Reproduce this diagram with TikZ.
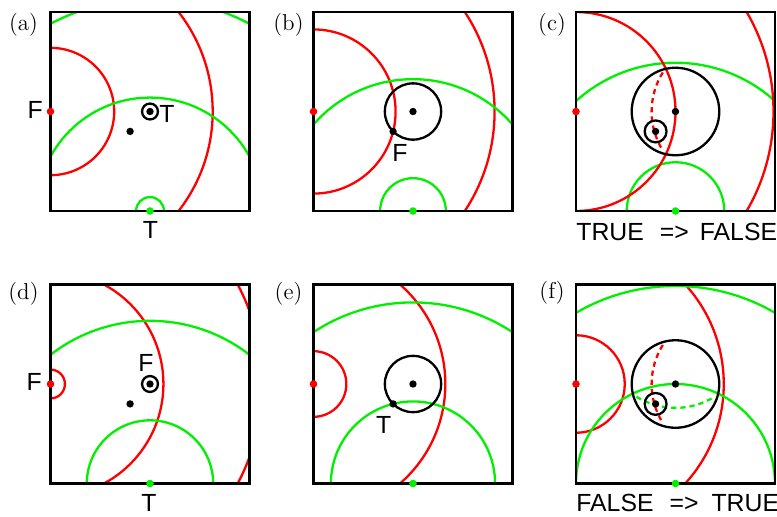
\documentclass[tikz,border=0pt]{standalone}
\usepackage{fontspec}
\newfontfamily\labfont{Liberation Sans}
\definecolor{pred}{RGB}{255,0,0}
\definecolor{pgreen}{RGB}{0,240,0}
\begin{document}
\begin{tikzpicture}[x=0.5pt,y=0.5pt,
  redarc/.style={draw=pred, line width=1.15pt},
  greenarc/.style={draw=pgreen, line width=1.15pt},
  blackring/.style={draw=black, line width=1.15pt},
  dashedarc/.style={line width=1.15pt, dash pattern=on 2.6pt off 2pt},
  frame/.style={draw=black, line width=1.3pt},
  lab/.style={font=\labfont\fontsize{12.4}{14}\selectfont, inner sep=0pt, anchor=base},
  tag/.style={font=\fontsize{11.5}{13}\selectfont, inner sep=0pt},
  dotb/.style={fill=black},
  dotr/.style={fill=pred},
  dotg/.style={fill=pgreen},
]
\useasboundingbox (0,0) rectangle (777,516);

% ---------------- (a) ----------------
\node[tag] (tagA) at (23.5,491.5) {(a)};
\begin{scope}[shift={(50.5,305)}, scale=0.995]
  \coordinate (aF) at (0,100); \coordinate (aT) at (100,0);
  \coordinate (aC) at (100,100); \coordinate (aP) at (80,80);
  \begin{scope}
    \clip (0,0) rectangle (200,200);
    \draw[redarc] (aF) circle[radius=64];
    \draw[redarc] (aF) circle[radius=163];
    \draw[greenarc] (aT) circle[radius=14];
    \draw[greenarc] (aT) circle[radius=114];
    \draw[greenarc] (aT) circle[radius=213];
  \end{scope}
  \draw[frame] (0,0) rectangle (200,200);
  \draw[blackring] (aC) circle[radius=8];
  \fill[dotb] (aC) circle[radius=3.7];
  \fill[dotb] (aP) circle[radius=3.7];
  \fill[dotr] (aF) circle[radius=3.8];
  \fill[dotg] (aT) circle[radius=3.8];
  \node[lab] (aFl) at (-15.5,92.7) {F};
  \node[lab] (aTl) at (117,89) {T};
  \node[lab] (aTb) at (100.5,-27.3) {T};
\end{scope}

% ---------------- (b) ----------------
\node[tag] (tagB) at (288.5,491.5) {(b)};
\begin{scope}[shift={(313.5,305)}, scale=0.995]
  \coordinate (bF) at (0,100); \coordinate (bT) at (100,0);
  \coordinate (bC) at (100,100); \coordinate (bP) at (80,80);
  \begin{scope}
    \clip (0,0) rectangle (200,200);
    \draw[redarc] (bF) circle[radius=82.5];
    \draw[redarc] (bF) circle[radius=182];
    \draw[greenarc] (bT) circle[radius=33];
    \draw[greenarc] (bT) circle[radius=132.5];
  \end{scope}
  \draw[frame] (0,0) rectangle (200,200);
  \draw[blackring] (bC) circle[radius=28.3];
  \fill[dotb] (bC) circle[radius=3.7];
  \fill[dotb] (bP) circle[radius=3.7];
  \fill[dotr] (bF) circle[radius=3.8];
  \fill[dotg] (bT) circle[radius=3.8];
  \node[lab] (bFl) at (87,49.3) {F};
\end{scope}

% ---------------- (c) ----------------
\node[tag] (tagC) at (552,491.5) {(c)};
\begin{scope}[shift={(576,305)}, scale=0.995]
  \coordinate (cF) at (0,100); \coordinate (cT) at (100,0);
  \coordinate (cC) at (100,100); \coordinate (cP) at (80,80);
  \coordinate (cR) at (150,100);
  \begin{scope}
    \clip (0,0) rectangle (200,200);
    \draw[greenarc] (cT) circle[radius=49];
    \draw[greenarc] (cT) circle[radius=149];
    \draw[redarc] (cF) circle[radius=100];
    \draw[redarc] (cF) circle[radius=198.5];
  \end{scope}
  \draw[frame] (0,0) rectangle (200,200);
  \draw[blackring] (cC) circle[radius=44];
  \draw[draw=pred, dashedarc] ([shift={(148:74)}]cR) arc[start angle=148, end angle=212, radius=74];
  \draw[blackring] (cP) circle[radius=11];
  \fill[dotb] (cC) circle[radius=3.7];
  \fill[dotb] (cP) circle[radius=3.7];
  \fill[dotr] (cF) circle[radius=3.8];
  \fill[dotg] (cT) circle[radius=3.8];
\end{scope}
\node[lab, anchor=base west] (cTxt) at (576,276)
  {TRUE\hspace{8pt}=>\hspace{5.5pt}FALSE};

% ---------------- (d) ----------------
\node[tag] (tagD) at (23.5,222) {(d)};
\begin{scope}[shift={(50.5,32.5)}, scale=0.995]
  \coordinate (dF) at (0,100); \coordinate (dT) at (100,0);
  \coordinate (dC) at (100,100); \coordinate (dP) at (80,80);
  \begin{scope}
    \clip (0,0) rectangle (200,200);
    \draw[redarc] (dF) circle[radius=14.5];
    \draw[redarc] (dF) circle[radius=113.5];
    \draw[redarc] (dF) circle[radius=213];
    \draw[greenarc] (dT) circle[radius=63.5];
    \draw[greenarc] (dT) circle[radius=163.5];
  \end{scope}
  \draw[frame] (0,0) rectangle (200,200);
  \draw[blackring] (dC) circle[radius=8];
  \fill[dotb] (dC) circle[radius=3.7];
  \fill[dotb] (dP) circle[radius=3.7];
  \fill[dotr] (dF) circle[radius=3.8];
  \fill[dotg] (dT) circle[radius=3.8];
  \node[lab] (dFl) at (-16.5,93) {F};
  \node[lab] (dFa) at (96,112.5) {F};
  \node[lab] (dTb) at (99,-28.2) {T};
\end{scope}

% ---------------- (e) ----------------
\node[tag] (tagE) at (288.5,222.7) {(e)};
\begin{scope}[shift={(313.5,32.5)}, scale=0.995]
  \coordinate (eF) at (0,100); \coordinate (eT) at (100,0);
  \coordinate (eC) at (100,100); \coordinate (eP) at (80,80);
  \begin{scope}
    \clip (0,0) rectangle (200,200);
    \draw[redarc] (eF) circle[radius=33];
    \draw[redarc] (eF) circle[radius=132.5];
    \draw[greenarc] (eT) circle[radius=82.5];
    \draw[greenarc] (eT) circle[radius=182];
  \end{scope}
  \draw[frame] (0,0) rectangle (200,200);
  \draw[blackring] (eC) circle[radius=28.3];
  \fill[dotb] (eC) circle[radius=3.7];
  \fill[dotb] (eP) circle[radius=3.7];
  \fill[dotr] (eF) circle[radius=3.8];
  \fill[dotg] (eT) circle[radius=3.8];
  \node[lab] (eTl) at (70.5,50.5) {T};
\end{scope}

% ---------------- (f) ----------------
\node[tag] (tagF) at (552,223) {(f)};
\begin{scope}[shift={(576,32.5)}, scale=0.995]
  \coordinate (fF) at (0,100); \coordinate (fT) at (100,0);
  \coordinate (fC) at (100,100); \coordinate (fP) at (80,80);
  \coordinate (fR) at (150,100); \coordinate (fG) at (100,150);
  \begin{scope}
    \clip (0,0) rectangle (200,200);
    \draw[redarc] (fF) circle[radius=49];
    \draw[redarc] (fF) circle[radius=148.5];
    \draw[greenarc] (fT) circle[radius=100];
    \draw[greenarc] (fT) circle[radius=198.5];
  \end{scope}
  \draw[frame] (0,0) rectangle (200,200);
  \draw[blackring] (fC) circle[radius=44];
  \draw[draw=pred, dashedarc] ([shift={(148:74)}]fR) arc[start angle=148, end angle=212, radius=74];
  \draw[draw=pgreen, dashedarc] ([shift={(238:74)}]fG) arc[start angle=238, end angle=302, radius=74];
  \draw[blackring] (fP) circle[radius=11];
  \fill[dotb] (fC) circle[radius=3.7];
  \fill[dotb] (fP) circle[radius=3.7];
  \fill[dotr] (fF) circle[radius=3.8];
  \fill[dotg] (fT) circle[radius=3.8];
\end{scope}
\node[lab, anchor=base west] (fTxt) at (576,4.3)
  {FALSE\hspace{8pt}=>\hspace{6.5pt}TRUE};
\end{tikzpicture}
\end{document}
